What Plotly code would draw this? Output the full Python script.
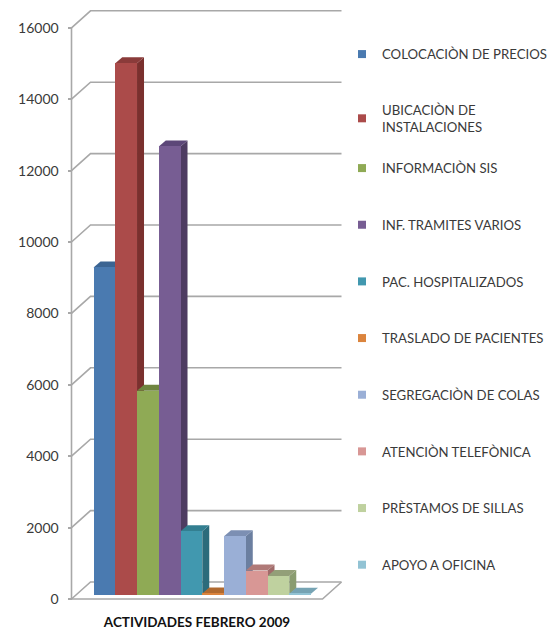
import plotly.graph_objects as go

categories = ["COLOCACIÒN DE PRECIOS", "UBICACIÒN DE<br>INSTALACIONES", "INFORMACIÒN SIS",
              "INF. TRAMITES VARIOS", "PAC. HOSPITALIZADOS", "TRASLADO DE PACIENTES",
              "SEGREGACIÒN DE COLAS", "ATENCIÒN TELEFÒNICA", "PRÈSTAMOS DE SILLAS", "APOYO A OFICINA"]
values = [9160, 14880, 5710, 12550, 1770, 30, 1630, 670, 520, 20]
front_colors = ["#4A7AB0", "#AB4B4A", "#8FAA55", "#775D93", "#4198AF",
                "#DB843D", "#9AAFD6", "#D89795", "#BFD19F", "#92C3D4"]
side_colors = ["#2F4F75", "#7A302E", "#5F7236", "#4E3C62", "#2C6B7B",
               "#95592A", "#6B7FA0", "#A06B6A", "#8A9C70", "#6A98A8"]
top_colors = ["#3B6492", "#8A3B3A", "#6F8540", "#5C4778", "#337F91",
              "#B06A30", "#7C8FB3", "#B07A78", "#939F78", "#76A3B3"]
tick_values = [0, 2000, 4000, 6000, 8000, 10000, 12000, 14000, 16000]

PX_W, PX_H = 557, 600
PLOT_W = 394        # plot area width; the axis title centres on it
UX = 21.75          # pixels per category slot
UY = 0.0357         # pixels per value unit
X0_PX = 104.4       # pixel centre of first category
AXIS_Y0_PX = 599    # pixel of the front axis zero
BASE = 4.5 / UY     # bars stand this far behind the front axis
WALL_DX, WALL_DY = 19 / UX, 17 / UY
BAR_DX, BAR_DY = 7 / UX, 6 / UY
X_FRONT = (71.5 - X0_PX) / UX
X_RIGHT = (341.5 - X0_PX) / UX
GRID = "#A8A8A8"
FONT = "Lato"
TEXT = "#3A3A3A"
LEGEND_FONT = dict(family=FONT, size=13.2, color=TEXT)

fig = go.Figure()

# walls and floor
gx, gy = [], []
for t in tick_values:
    gx += [X_FRONT, X_FRONT + WALL_DX, X_RIGHT, None]
    gy += [t, t + WALL_DY, t + WALL_DY, None]
gx += [X_FRONT, X_FRONT, None]
gy += [tick_values[0], tick_values[-1], None]
gx += [X_FRONT, X_RIGHT - WALL_DX, X_RIGHT]
gy += [0, 0, WALL_DY]
fig.add_trace(go.Scatter(x=gx, y=gy, mode="lines", line=dict(color=GRID, width=1.6),
                         showlegend=False, hoverinfo="skip"))

# depth faces, left to right
for i, (name, v) in enumerate(zip(categories, values)):
    l, r = i - 0.5, i + 0.5
    lo, hi = BASE, BASE + v
    fig.add_trace(go.Scatter(
        x=[r, r + BAR_DX, r + BAR_DX, r, r], y=[lo, lo + BAR_DY, hi + BAR_DY, hi, lo],
        mode="lines", fill="toself", fillcolor=side_colors[i], line=dict(width=0),
        legendgroup=name, showlegend=False, hoverinfo="skip"))
    fig.add_trace(go.Scatter(
        x=[l, l + BAR_DX, r + BAR_DX, r, l], y=[hi, hi + BAR_DY, hi + BAR_DY, hi, hi],
        mode="lines", fill="toself", fillcolor=top_colors[i], line=dict(width=0),
        legendgroup=name, showlegend=False, hoverinfo="skip"))

# front faces on the overlay axis, above every depth face
for i, (name, v) in enumerate(zip(categories, values)):
    fig.add_trace(go.Bar(x=[i], y=[v], width=1, yaxis="y2",
                         marker=dict(color=front_colors[i], line=dict(width=0)),
                         name=name, legendgroup=name, showlegend=False))

# legend entries with small square swatches; the two-line entry sits tight, so two legends
for i, name in enumerate(categories):
    fig.add_trace(go.Scatter(x=[None], y=[None], mode="markers", name=name, legendgroup=name,
                             legend="legend" if i < 2 else "legend2",
                             marker=dict(symbol="square", size=8, color=front_colors[i])))

y_lo = -(PX_H - AXIS_Y0_PX) / UY
y_hi = AXIS_Y0_PX / UY
x_lo = -X0_PX / UX
x_hi = (PLOT_W - X0_PX) / UX

fig.update_layout(
    width=557, height=633, autosize=False,
    margin=dict(l=0, r=0, t=0, b=33),
    paper_bgcolor="white", plot_bgcolor="white",
    font=dict(family=FONT, size=14, color=TEXT),
    barmode="overlay", bargap=0,
    xaxis=dict(domain=[0, PLOT_W / PX_W], range=[x_lo, x_hi], showgrid=False, zeroline=False,
               showticklabels=False, ticks="", showline=False,
               title=dict(text="<b>ACTIVIDADES FEBRERO 2009</b>",
                          font=dict(family=FONT, size=13.5, color="#111111"), standoff=17)),
    yaxis=dict(range=[y_lo, y_hi], anchor="free", position=71.5 / PX_W, tickmode="array",
               tickvals=tick_values, ticktext=[str(t) for t in tick_values],
               showgrid=False, zeroline=False, showline=False, ticks="outside", ticklen=4,
               ticklabelstandoff=6,
               tickcolor=GRID, tickwidth=1.5, tickfont=dict(family=FONT, size=14, color=TEXT)),
    yaxis2=dict(range=[y_lo - BASE, y_hi - BASE], overlaying="y", visible=False),
    legend=dict(x=342 / PX_W, y=1 - 39 / PX_H, xanchor="left", yanchor="top",
                tracegroupgap=35.5, bgcolor="rgba(0,0,0,0)", font=LEGEND_FONT),
    legend2=dict(x=342 / PX_W, y=1 - 153 / PX_H, xanchor="left", yanchor="top",
                 tracegroupgap=36.5, bgcolor="rgba(0,0,0,0)", font=LEGEND_FONT),
    showlegend=True,
)

fig.write_html("out.html", config={"displayModeBar": False},
               post_script="document.body.style.margin='0';")
